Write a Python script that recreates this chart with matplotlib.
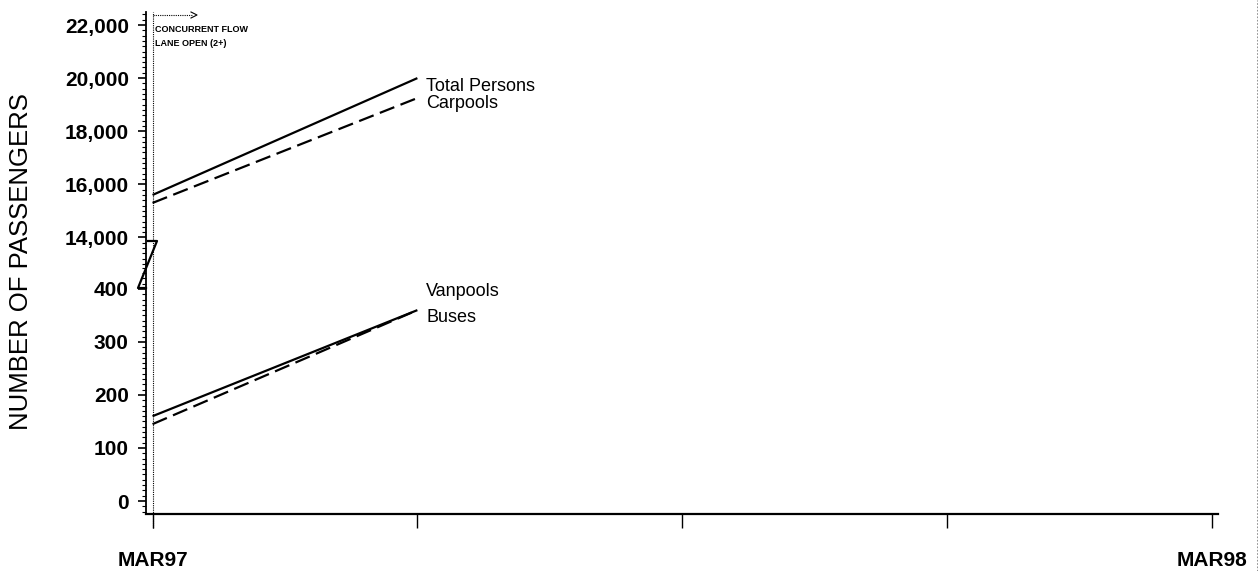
import matplotlib
matplotlib.use("Agg")
import matplotlib.pyplot as plt
from matplotlib.ticker import MultipleLocator, FuncFormatter, FixedLocator
from matplotlib.lines import Line2D
from matplotlib.transforms import blended_transform_factory

# ---- data ----
x_months = [0, 3]                       # months after MAR97
x_tick_pos = [0, 3, 6, 9, 12]
x_tick_labels = ["MAR97", "", "", "", "MAR98"]
total_persons = [15600, 20000]
carpools = [15300, 19250]
vanpools = [160, 360]
buses = [145, 360]

plt.rcParams['font.family'] = ['Liberation Sans', 'DejaVu Sans']

W, H = 1260, 571
fig = plt.figure(figsize=(W / 100, H / 100), dpi=100)
fig.patch.set_facecolor('white')

def fx(px):
    return px / W

def fy(py):
    return 1 - py / H

left = fx(145.5)
width = fx(1218) - left
ax_up = fig.add_axes([left, fy(264), width, fy(12) - fy(264)])
ax_lo = fig.add_axes([left, fy(514), width, fy(264) - fy(514)])

for ax in (ax_up, ax_lo):
    ax.set_xlim(-0.08, 12.07)
    ax.set_facecolor('none')
    for s in ('top', 'right'):
        ax.spines[s].set_visible(False)
    ax.spines['left'].set_linewidth(1.3)
    ax.tick_params(axis='y', which='major', direction='out', length=6,
                   width=1.2, pad=6, labelsize=15)
    ax.tick_params(axis='y', which='minor', direction='out', length=3,
                   width=0.8)
    for lab in ax.get_yticklabels():
        lab.set_fontweight('bold')

ax_up.spines['bottom'].set_visible(False)
ax_up.tick_params(axis='x', which='both', bottom=False, labelbottom=False)
ax_up.set_ylim(13000, 22490)
ax_up.yaxis.set_major_locator(MultipleLocator(2000))
ax_up.yaxis.set_minor_locator(MultipleLocator(200))
ax_up.yaxis.set_major_formatter(FuncFormatter(lambda v, p: f"{v:,.0f}"))

ax_lo.set_ylim(-24.5, 447)
ax_lo.yaxis.set_major_locator(MultipleLocator(100))
ax_lo.yaxis.set_minor_locator(MultipleLocator(10))
ax_lo.yaxis.set_major_formatter(FuncFormatter(lambda v, p: f"{v:,.0f}"))
ax_lo.spines['bottom'].set_linewidth(1.6)
ax_lo.xaxis.set_major_locator(FixedLocator(x_tick_pos))
ax_lo.set_xticklabels(x_tick_labels)
ax_lo.tick_params(axis='x', which='major', direction='out', length=10,
                  width=1.0, pad=17, labelsize=15)
for lab in ax_lo.get_xticklabels():
    lab.set_fontweight('bold')

for ax in (ax_up, ax_lo):
    for lab in ax.get_yticklabels():
        lab.set_fontweight('bold')

# ---- series ----
ax_up.plot(x_months, total_persons, color='black', lw=1.6, solid_capstyle='butt')
ax_up.plot(x_months, carpools, color='black', lw=1.6, dashes=(7, 3))
ax_lo.plot(x_months, vanpools, color='black', lw=1.6, solid_capstyle='butt')
ax_lo.plot(x_months, buses, color='black', lw=1.6, dashes=(7, 3))

lab_kw = dict(textcoords='offset pixels', fontsize=13, va='center', ha='left',
              annotation_clip=False)
ax_up.annotate("Total Persons", xy=(x_months[-1], total_persons[-1]),
               xytext=(9, -8), **lab_kw)
ax_up.annotate("Carpools", xy=(x_months[-1], carpools[-1]),
               xytext=(9, -5), **lab_kw)
ax_lo.annotate("Vanpools", xy=(x_months[-1], vanpools[-1]),
               xytext=(9, 19), **lab_kw)
ax_lo.annotate("Buses", xy=(x_months[-1], buses[-1]),
               xytext=(9, -7), **lab_kw)

# ---- event marker: concurrent flow lane open at MAR97 ----
tr = blended_transform_factory(ax_lo.transData, fig.transFigure)
fig.add_artist(Line2D([0, 0], [fy(528), fy(12)], transform=tr, color='black',
                      lw=0.8, ls=(0, (1, 1))))
fig.add_artist(Line2D([fx(153), fx(192)], [fy(15), fy(15)], color='black',
                      lw=0.8, ls=(0, (1, 1)), transform=fig.transFigure))
fig.add_artist(Line2D([fx(191), fx(197), fx(191)], [fy(12), fy(15), fy(18)],
                      color='black', lw=0.8, transform=fig.transFigure))
fig.text(fx(155), fy(29), "CONCURRENT FLOW", fontsize=6.5, fontweight='bold',
         va='center', ha='left')
fig.text(fx(155), fy(44), "LANE OPEN (2+)", fontsize=6.5, fontweight='bold',
         va='center', ha='left')

# ---- axis break mark ----
fig.add_artist(Line2D([fx(148), fx(157), fx(138), fx(146)],
                      [fy(241), fy(241), fy(288), fy(288)],
                      color='black', lw=1.6, transform=fig.transFigure))

# ---- y label ----
fig.text(fx(21), fy(262), "NUMBER OF PASSENGERS", rotation=90, fontsize=18.5,
         va='center', ha='center')

# faint scan edge on the right
fig.add_artist(Line2D([fx(1257), fx(1257)], [0, 1], color='gray', lw=0.6,
                      ls=(0, (2, 2)), transform=fig.transFigure))

fig.savefig("out.png", dpi=100, facecolor='white')
